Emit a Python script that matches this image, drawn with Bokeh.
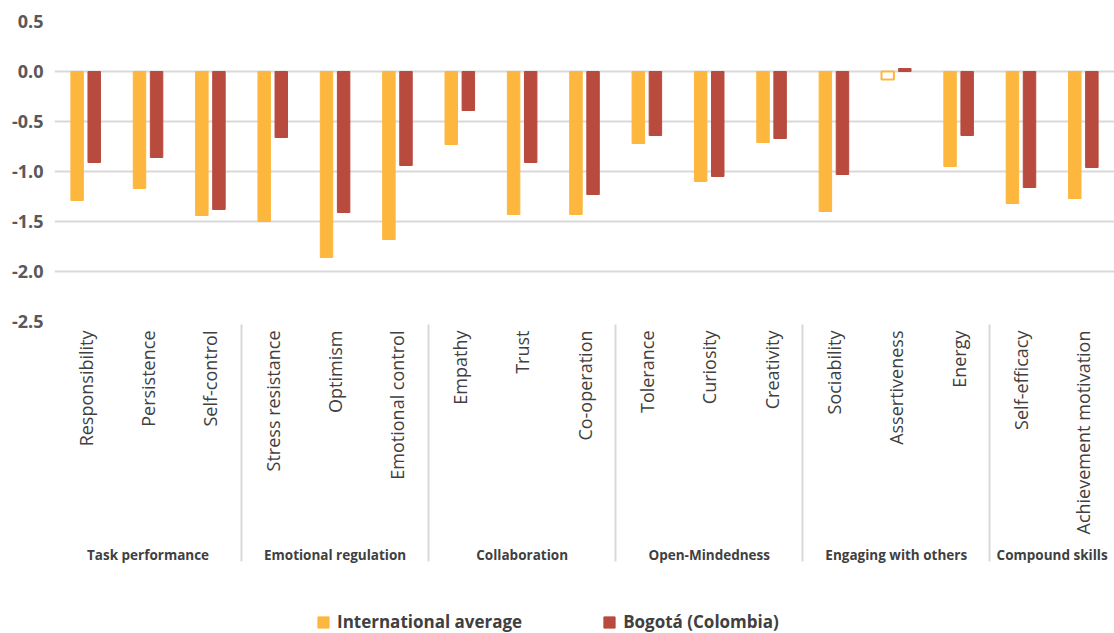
import math
from bokeh.plotting import figure
from bokeh.layouts import column
from bokeh.models import (FactorRange, ColumnDataSource, Range1d, FixedTicker,
                          NumeralTickFormatter, Legend, LegendItem)
from bokeh.transform import dodge
from bokeh.embed import file_html
from bokeh.resources import INLINE

groups = (["Task performance"] * 3 + ["Emotional regulation"] * 3 +
          ["Collaboration"] * 3 + ["Open-Mindedness"] * 3 +
          ["Engaging with others"] * 3 + ["Compound skills"] * 2)
skills = ["Responsibility", "Persistence", "Self-control",
          "Stress resistance", "Optimism", "Emotional control",
          "Empathy", "Trust", "Co-operation",
          "Tolerance", "Curiosity", "Creativity",
          "Sociability", "Assertiveness", "Energy",
          "Self-efficacy", "Achievement motivation"]
international = [-1.29, -1.17, -1.44, -1.50, -1.86, -1.68, -0.73, -1.43, -1.43,
                 -0.72, -1.10, -0.71, -1.40, -0.08, -0.95, -1.32, -1.27]
bogota = [-0.91, -0.86, -1.38, -0.66, -1.41, -0.94, -0.39, -0.91, -1.23,
          -0.64, -1.05, -0.67, -1.03, 0.03, -0.64, -1.16, -0.96]
series_names = ["International average", "Bogotá (Colombia)"]
y_ticks = [-2.5, -2.0, -1.5, -1.0, -0.5, 0.0, 0.5]
hollow_skills = ["Assertiveness"]

YELLOW = "#FDB73F"
RED = "#B84A3E"
TXT = "#404040"
FONT = "Open Sans"

factors = list(zip(groups, skills))
intl_fill = ["white" if s in hollow_skills else YELLOW for s in skills]
intl_lw = [2 if s in hollow_skills else 1 for s in skills]
src = ColumnDataSource(dict(x=factors, intl=international, bog=bogota,
                            zero=[0.0] * len(skills), intl_fill=intl_fill,
                            intl_lw=intl_lw))

p = figure(x_range=FactorRange(*factors, group_padding=0, factor_padding=0, range_padding=0),
           y_range=Range1d(y_ticks[0], y_ticks[-1]),
           frame_width=1060, frame_height=300, output_backend="svg", toolbar_location=None,
           min_border_left=54, min_border_right=0, min_border_top=21, min_border_bottom=250)

p.vbar(x=dodge("x", -0.137, range=p.x_range), top="zero", bottom="intl", width=0.2,
       source=src, fill_color="intl_fill", line_color=YELLOW, line_width="intl_lw")
p.vbar(x=dodge("x", 0.137, range=p.x_range), top="zero", bottom="bog", width=0.2,
       source=src, fill_color=RED, line_color=RED, line_width=1)

p.outline_line_color = None
p.xgrid.grid_line_color = None
p.ygrid.grid_line_color = "#D9D9D9"
p.ygrid.grid_line_width = 2
p.ygrid.ticker = FixedTicker(ticks=y_ticks)

ya = p.yaxis[0]
ya.ticker = FixedTicker(ticks=y_ticks)
ya.formatter = NumeralTickFormatter(format="0.0")
ya.axis_line_color = None
ya.major_tick_line_color = None
ya.minor_tick_line_color = None
ya.major_tick_out = 0
ya.major_tick_in = 0
ya.major_label_standoff = 11
ya.major_label_text_font = FONT
ya.major_label_text_font_style = "bold"
ya.major_label_text_font_size = "18px"
ya.major_label_text_color = "#595959"

xa = p.xaxis[0]
xa.axis_line_color = None
xa.major_tick_line_color = None
xa.minor_tick_line_color = None
xa.major_tick_out = 0
xa.major_tick_in = 0
xa.major_label_orientation = math.pi / 2
xa.major_label_standoff = 9
xa.major_label_text_font = FONT
xa.major_label_text_font_size = "18px"
xa.major_label_text_color = TXT
xa.group_text_font = FONT
xa.group_text_font_size = "13.5px"
xa.group_text_font_style = "bold"
xa.group_text_color = TXT
xa.group_label_orientation = "parallel"
xa.separator_line_color = "#D9D9D9"
xa.separator_line_width = 2

# legend strip below the chart (its swatches come from off-screen proxy bars)
leg = figure(width=1114, height=62, x_range=Range1d(0, 1), y_range=Range1d(0, 1),
             output_backend="svg", toolbar_location=None,
             x_axis_location=None, y_axis_location=None,
             min_border=0, min_border_left=0, min_border_right=0,
             min_border_top=0, min_border_bottom=0)
leg.outline_line_color = None
leg.grid.grid_line_color = None
proxy = ColumnDataSource(dict(x=[-10.0], top=[-10.0]))
d1 = leg.vbar(x="x", top="top", width=0.1, source=proxy, fill_color=YELLOW, line_color=YELLOW)
d2 = leg.vbar(x="x", top="top", width=0.1, source=proxy, fill_color=RED, line_color=RED)

legend = Legend(items=[LegendItem(label=series_names[0], renderers=[d1]),
                       LegendItem(label=series_names[1], renderers=[d2])],
                orientation="horizontal", location=(262, 0),
                glyph_width=14, glyph_height=14, label_standoff=7, spacing=80,
                label_height=17, label_text_font=FONT, label_text_font_size="17px",
                label_text_font_style="bold", label_text_color=TXT,
                border_line_color=None, background_fill_alpha=0,
                padding=3, margin=0)
leg.add_layout(legend, "center")

layout = column(p, leg, spacing=0)
open("out.html", "w").write(file_html(layout, INLINE))
